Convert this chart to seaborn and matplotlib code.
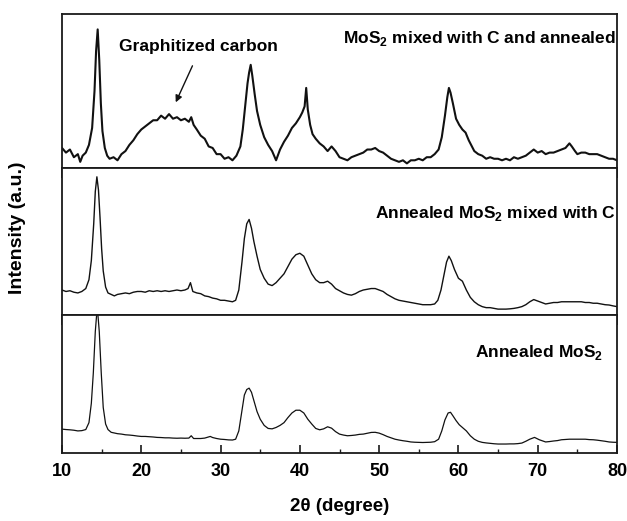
import matplotlib
matplotlib.use("Agg")
import matplotlib.pyplot as plt
import seaborn as sns
from matplotlib.ticker import MultipleLocator

sns.set_style("white")
plt.rcParams['font.family'] = ['Liberation Sans', 'DejaVu Sans']
plt.rcParams['font.weight'] = 'bold'
plt.rcParams['text.color'] = 'black'
plt.rcParams['xtick.color'] = 'black'
plt.rcParams['axes.labelcolor'] = 'black'

# ---------------- data (panel-relative intensity, a.u.) ----------------
top_x = [10, 10.5, 11, 11.5, 12, 12.3, 12.6, 13, 13.4, 13.8, 14.1, 14.3, 14.5, 14.7, 14.9, 15.1, 15.4, 15.7, 16,
         16.5, 17, 17.5, 18, 18.5, 19, 19.5, 20, 20.5, 21, 21.5, 22, 22.5, 23, 23.5, 24, 24.5, 25, 25.5, 26, 26.3,
         26.6, 27, 27.5, 28, 28.5, 29, 29.5, 30, 30.5, 31, 31.5, 32, 32.5, 32.8, 33.1, 33.4, 33.6, 33.8, 34.0, 34.3,
         34.6, 35, 35.5, 36, 36.5, 37, 37.5, 38, 38.5, 39, 39.5, 40, 40.3, 40.6, 40.8, 41.0, 41.3, 41.6, 42, 42.5,
         43, 43.5, 44, 44.5, 45, 45.5, 46, 46.5, 47, 47.5, 48, 48.5, 49, 49.5, 50, 50.5, 51, 51.5, 52, 52.5, 53,
         53.5, 54, 54.5, 55, 55.5, 56, 56.5, 57, 57.5, 57.9, 58.3, 58.6, 58.8, 59.0, 59.3, 59.7, 60.1, 60.5, 60.9,
         61.3, 61.7, 62, 62.5, 63, 63.5, 64, 64.5, 65, 65.5, 66, 66.5, 67, 67.5, 68, 68.5, 69, 69.5, 70, 70.5, 71,
         71.5, 72, 72.5, 73, 73.5, 74, 74.3, 74.7, 75, 75.5, 76, 76.5, 77, 77.5, 78, 78.5, 79, 79.5, 80]
top_y = [0.13, 0.10, 0.12, 0.07, 0.09, 0.04, 0.08, 0.10, 0.15, 0.26, 0.50, 0.76, 0.90, 0.70, 0.42, 0.24, 0.13, 0.08,
         0.06, 0.07, 0.05, 0.09, 0.11, 0.15, 0.18, 0.22, 0.25, 0.27, 0.29, 0.31, 0.31, 0.34, 0.32, 0.35, 0.32, 0.33,
         0.31, 0.32, 0.30, 0.33, 0.28, 0.25, 0.21, 0.19, 0.14, 0.13, 0.09, 0.09, 0.06, 0.07, 0.05, 0.08, 0.14, 0.25,
         0.40, 0.55, 0.62, 0.67, 0.60, 0.48, 0.37, 0.28, 0.20, 0.15, 0.11, 0.05, 0.12, 0.17, 0.21, 0.26, 0.29, 0.33,
         0.36, 0.40, 0.52, 0.38, 0.28, 0.22, 0.19, 0.16, 0.14, 0.11, 0.14, 0.11, 0.07, 0.06, 0.05, 0.07, 0.08, 0.09,
         0.10, 0.12, 0.12, 0.13, 0.11, 0.10, 0.08, 0.06, 0.05, 0.04, 0.05, 0.03, 0.05, 0.05, 0.06, 0.05, 0.07, 0.07,
         0.09, 0.12, 0.20, 0.34, 0.46, 0.52, 0.49, 0.42, 0.32, 0.28, 0.25, 0.23, 0.18, 0.14, 0.11, 0.09, 0.08, 0.06,
         0.07, 0.06, 0.06, 0.05, 0.06, 0.05, 0.07, 0.06, 0.07, 0.08, 0.10, 0.12, 0.10, 0.11, 0.09, 0.10, 0.10, 0.11,
         0.12, 0.13, 0.16, 0.14, 0.11, 0.09, 0.10, 0.10, 0.09, 0.09, 0.09, 0.08, 0.07, 0.06, 0.06, 0.05]

mid_x = [10, 10.5, 11, 11.5, 12, 12.5, 13, 13.4, 13.7, 14.0, 14.2, 14.4, 14.6, 14.8, 15.0, 15.2, 15.5, 15.8, 16.2,
         16.6, 17, 17.5, 18, 18.5, 19, 19.5, 20, 20.5, 21, 21.5, 22, 22.5, 23, 23.5, 24, 24.5, 25, 25.5, 25.9, 26.2,
         26.5, 27, 27.5, 28, 28.5, 29, 29.5, 30, 30.5, 31, 31.5, 31.9, 32.3, 32.7, 33.0, 33.3, 33.6, 33.9, 34.2,
         34.6, 35, 35.5, 36, 36.5, 37, 37.5, 38, 38.5, 39, 39.5, 40, 40.5, 41, 41.5, 42, 42.5, 43, 43.5, 44, 44.5,
         45, 45.5, 46, 46.5, 47, 47.5, 48, 48.5, 49, 49.5, 50, 50.5, 51, 51.5, 52, 52.5, 53, 53.5, 54, 54.5, 55,
         55.5, 56, 56.5, 57, 57.4, 57.8, 58.2, 58.5, 58.8, 59.1, 59.5, 60, 60.5, 61, 61.5, 62, 62.5, 63, 63.5, 64,
         64.5, 65, 65.5, 66, 66.5, 67, 67.5, 68, 68.5, 69, 69.5, 70, 70.5, 71, 71.5, 72, 72.5, 73, 73.5, 74, 74.5,
         75, 75.5, 76, 76.5, 77, 77.5, 78, 78.5, 79, 79.5, 80]
mid_y = [0.17, 0.16, 0.165, 0.155, 0.15, 0.16, 0.18, 0.24, 0.37, 0.62, 0.84, 0.94, 0.85, 0.66, 0.45, 0.30, 0.19,
         0.15, 0.14, 0.13, 0.14, 0.145, 0.15, 0.145, 0.155, 0.16, 0.16, 0.155, 0.165, 0.16, 0.165, 0.16, 0.165, 0.16,
         0.165, 0.17, 0.165, 0.17, 0.18, 0.22, 0.16, 0.15, 0.145, 0.13, 0.125, 0.115, 0.11, 0.10, 0.10, 0.095, 0.09,
         0.10, 0.17, 0.36, 0.52, 0.62, 0.65, 0.59, 0.50, 0.40, 0.31, 0.25, 0.21, 0.20, 0.22, 0.25, 0.28, 0.33, 0.38,
         0.41, 0.42, 0.40, 0.34, 0.28, 0.24, 0.22, 0.22, 0.23, 0.21, 0.18, 0.165, 0.15, 0.14, 0.135, 0.145, 0.16,
         0.17, 0.175, 0.18, 0.18, 0.17, 0.16, 0.14, 0.125, 0.11, 0.10, 0.095, 0.09, 0.085, 0.08, 0.075, 0.07, 0.07,
         0.07, 0.075, 0.10, 0.17, 0.28, 0.36, 0.40, 0.37, 0.31, 0.25, 0.23, 0.17, 0.12, 0.09, 0.07, 0.057, 0.05,
         0.05, 0.045, 0.04, 0.04, 0.04, 0.042, 0.045, 0.05, 0.057, 0.07, 0.09, 0.105, 0.095, 0.085, 0.075, 0.08,
         0.085, 0.085, 0.09, 0.09, 0.09, 0.09, 0.09, 0.09, 0.085, 0.085, 0.08, 0.08, 0.075, 0.07, 0.068, 0.062, 0.057]

bot_x = [10, 10.5, 11, 11.5, 12, 12.5, 13, 13.4, 13.7, 13.95, 14.2, 14.45, 14.7, 14.95, 15.2, 15.5, 15.8, 16.2, 16.6,
         17, 17.5, 18, 18.5, 19, 19.5, 20, 20.5, 21, 21.5, 22, 22.5, 23, 23.5, 24, 24.5, 25, 25.5, 26, 26.3, 26.6,
         27, 27.5, 28, 28.4, 28.7, 29, 29.5, 30, 30.5, 31, 31.5, 31.9, 32.3, 32.7, 33.0, 33.3, 33.6, 33.9, 34.2,
         34.6, 35, 35.5, 36, 36.5, 37, 37.5, 38, 38.5, 39, 39.5, 40, 40.5, 41, 41.5, 42, 42.5, 43, 43.5, 44, 44.5,
         45, 45.5, 46, 46.5, 47, 47.5, 48, 48.5, 49, 49.5, 50, 50.5, 51, 51.5, 52, 52.5, 53, 53.5, 54, 54.5, 55,
         55.5, 56, 56.5, 57, 57.5, 57.9, 58.3, 58.7, 59.0, 59.3, 59.7, 60.1, 60.5, 61, 61.5, 62, 62.5, 63, 63.5, 64,
         64.5, 65, 65.5, 66, 66.5, 67, 67.5, 68, 68.5, 69, 69.6, 70.2, 70.5, 71, 71.5, 72, 72.5, 73, 73.5, 74, 74.5,
         75, 75.5, 76, 76.5, 77, 77.5, 78, 78.5, 79, 79.5, 80]
bot_y = [0.173, 0.17, 0.168, 0.165, 0.16, 0.162, 0.17, 0.22, 0.36, 0.58, 0.88, 1.06, 0.88, 0.58, 0.33, 0.21, 0.17,
         0.15, 0.145, 0.14, 0.137, 0.132, 0.13, 0.127, 0.123, 0.12, 0.12, 0.118, 0.116, 0.113, 0.112, 0.11, 0.11,
         0.108, 0.107, 0.108, 0.107, 0.108, 0.125, 0.105, 0.105, 0.105, 0.108, 0.115, 0.12, 0.112, 0.105, 0.10,
         0.098, 0.095, 0.094, 0.10, 0.16, 0.31, 0.42, 0.46, 0.47, 0.44, 0.38, 0.30, 0.245, 0.20, 0.178, 0.175,
         0.185, 0.20, 0.22, 0.257, 0.29, 0.31, 0.31, 0.29, 0.245, 0.21, 0.178, 0.168, 0.175, 0.19, 0.18, 0.155,
         0.137, 0.13, 0.125, 0.127, 0.13, 0.135, 0.137, 0.143, 0.149, 0.15, 0.144, 0.133, 0.12, 0.11, 0.10, 0.094,
         0.089, 0.085, 0.08, 0.078, 0.077, 0.076, 0.077, 0.078, 0.082, 0.10, 0.16, 0.24, 0.29, 0.295, 0.27, 0.235,
         0.205, 0.185, 0.16, 0.125, 0.10, 0.085, 0.077, 0.073, 0.07, 0.067, 0.065, 0.065, 0.065, 0.066, 0.066,
         0.068, 0.072, 0.085, 0.10, 0.113, 0.096, 0.09, 0.08, 0.083, 0.087, 0.09, 0.096, 0.098, 0.10, 0.10, 0.10,
         0.10, 0.10, 0.097, 0.096, 0.093, 0.089, 0.085, 0.08, 0.078, 0.077]

labels = [r'MoS$_\mathregular{2}$ mixed with C and annealed',
          r'Annealed MoS$_\mathregular{2}$ mixed with C',
          r'Annealed MoS$_\mathregular{2}$']
x_ticks = [10, 20, 30, 40, 50, 60, 70, 80]

# ---------------- figure ----------------
fig = plt.figure(figsize=(6.27, 5.21), dpi=100)
L, W = 62 / 627, 555 / 627
def ypos(top_px, bot_px):
    return [L, 1 - bot_px / 521, W, (bot_px - top_px) / 521]

ax_top = fig.add_axes(ypos(14, 168))
ax_mid = fig.add_axes(ypos(168, 315))
ax_bot = fig.add_axes(ypos(315, 453))

series = [(ax_top, top_x, top_y, 1.5), (ax_mid, mid_x, mid_y, 1.0), (ax_bot, bot_x, bot_y, 0.9)]
for ax, xs, ys, lw in series:
    sns.lineplot(x=xs, y=ys, ax=ax, color='#111111', linewidth=lw, sort=False)
    ax.set_xlim(10, 80)
    ax.set_ylim(0, 1)
    ax.set_yticks([])
    ax.set_xticks(x_ticks)
    ax.set_ylabel('')
    for s in ax.spines.values():
        s.set_color('#1a1a1a')
        s.set_linewidth(1.3)

for ax in (ax_top, ax_mid):
    ax.tick_params(axis='x', direction='out', length=7, width=1.2, labelbottom=False, bottom=True, color='#1a1a1a')

ax_bot.xaxis.set_minor_locator(MultipleLocator(5))
ax_bot.tick_params(axis='x', which='major', direction='in', length=6, width=1.2, bottom=True,
                   labelsize=13, pad=7, color='#1a1a1a', labelcolor='black')
ax_bot.tick_params(axis='x', which='minor', direction='in', length=3, width=1.0, bottom=True, color='#1a1a1a')
for t in ax_bot.get_xticklabels():
    t.set_fontweight('bold')

ax_bot.set_xlabel('2θ (degree)', fontsize=13.5, fontweight='bold', labelpad=13, color='black')
fig.text(18 / 627, 1 - 228 / 521, 'Intensity (a.u.)', rotation=90, fontsize=14, fontweight='bold',
         ha='center', va='center', color='black')

# annotations
ax_top.text(79.8, 0.81, labels[0], ha='right', va='baseline', fontsize=12.5, fontweight='bold', color='black')
ax_mid.text(79.8, 0.658, labels[1], ha='right', va='baseline', fontsize=12.5, fontweight='bold', color='black')
ax_bot.text(78.3, 0.697, labels[2], ha='right', va='baseline', fontsize=12.5, fontweight='bold', color='black')
ax_top.text(27.2, 0.758, 'Graphitized carbon', ha='center', va='baseline', fontsize=12.5, fontweight='bold',
            color='black')
ax_top.annotate('', xy=(24.2, 0.41), xytext=(26.6, 0.68),
                arrowprops=dict(arrowstyle='-|>', color='#111111', lw=1.0, mutation_scale=10))

fig.savefig('out.png', dpi=100)
